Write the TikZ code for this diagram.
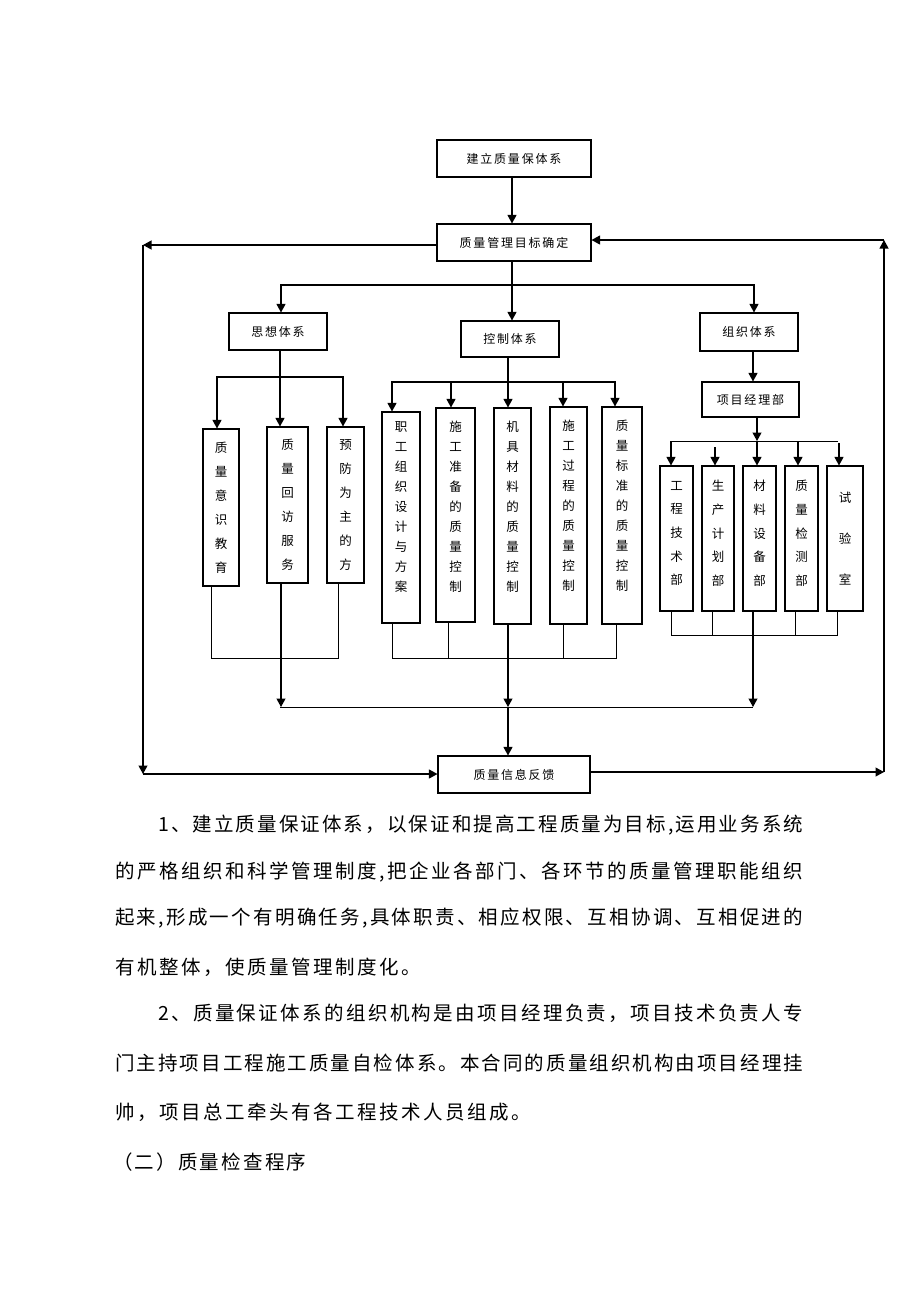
\documentclass[tikz,border=0pt]{standalone}
\usepackage{fontspec}
\setmainfont{Noto Sans CJK SC}
\newfontfamily\boxfont[LetterSpace=15]{Noto Sans CJK SC}
\usetikzlibrary{arrows.meta}
\def\spreadfirst#1{#1\spreadrest}
\def\spreadrest#1{\ifx\relax#1\else\hskip0pt plus 1fil#1\expandafter\spreadrest\fi}
\newcommand\spreadline[2]{\makebox[#1][s]{\spreadfirst#2\relax}}
\begin{document}
\begin{tikzpicture}[x=1pt,y=-1pt,
  box/.style={draw, line width=1.1pt, inner sep=0pt, font=\boxfont\fontsize{12}{14}\selectfont},
  vbox/.style={draw, line width=1.1pt, inner sep=0pt},
  vlab/.style={align=center, inner sep=0pt, font=\fontsize{12.5}{#1}\selectfont},
  arr/.style={line width=1.1pt, -{Triangle[length=8.5pt,width=9pt]}},
  ln/.style={line width=0.9pt},
  para/.style={anchor=west, inner sep=0pt, font=\fontsize{19.5}{24}\selectfont}]
\useasboundingbox (0,0) rectangle (920,1302);

% top boxes
\node[box, minimum width=154pt, minimum height=37pt] (t1) at (514,158.5) {建立质量保体系};
\node[box, minimum width=154pt, minimum height=37pt] (t2) at (514,242.5) {质量管理目标确定};
\node[box, minimum width=98pt, minimum height=37pt] (sx) at (278,331.5) {思想体系};
\node[box, minimum width=98pt, minimum height=36pt] (kz) at (510,339) {控制体系};
\node[box, minimum width=98pt, minimum height=38pt] (zz) at (749,332) {组织体系};
\node[box, minimum width=97pt, minimum height=35pt] (xm) at (750.5,399.5) {项目经理部};
\node[box, minimum width=152pt, minimum height=37pt] (fb) at (514,774.5) {质量信息反馈};

% group 1
\node[vbox, minimum width=36pt, minimum height=157pt, label={[vlab=24]center:质\\量\\意\\识\\教\\育}] (a1) at (221,507.5) {};
\node[vbox, minimum width=41pt, minimum height=156pt, label={[vlab=24]center:质\\量\\回\\访\\服\\务}] (a2) at (287.5,505) {};
\node[vbox, minimum width=37pt, minimum height=156pt, label={[vlab=24]center:预\\防\\为\\主\\的\\方}] (a3) at (345.5,505) {};

% group 2
\node[vbox, minimum width=38pt, minimum height=211pt, label={[vlab=20,yshift=10pt]center:职\\工\\组\\织\\设\\计\\与\\方\\案}] (b1) at (401,517.5) {};
\node[vbox, minimum width=39pt, minimum height=214pt, label={[vlab=20,yshift=8pt]center:施\\工\\准\\备\\的\\质\\量\\控\\制}] (b2) at (455.5,515) {};
\node[vbox, minimum width=37pt, minimum height=216pt, label={[vlab=20,yshift=9pt]center:机\\具\\材\\料\\的\\质\\量\\控\\制}] (b3) at (512.5,516) {};
\node[vbox, minimum width=37pt, minimum height=217pt, label={[vlab=20,yshift=10pt]center:施\\工\\过\\程\\的\\质\\量\\控\\制}] (b4) at (568.5,515.5) {};
\node[vbox, minimum width=40pt, minimum height=217pt, label={[vlab=20,yshift=10pt]center:质\\量\\标\\准\\的\\质\\量\\控\\制}] (b5) at (622,515.5) {};

% group 3
\node[vbox, minimum width=33pt, minimum height=145pt, label={[vlab=23.7,yshift=5pt]center:工\\程\\技\\术\\部}] (c1) at (676.5,538.5) {};
\node[vbox, minimum width=32pt, minimum height=145pt, label={[vlab=23.7,yshift=5pt]center:生\\产\\计\\划\\部}] (c2) at (718,538.5) {};
\node[vbox, minimum width=33pt, minimum height=145pt, label={[vlab=23.7,yshift=5pt]center:材\\料\\设\\备\\部}] (c3) at (759.5,538.5) {};
\node[vbox, minimum width=33pt, minimum height=145pt, label={[vlab=23.7,yshift=5pt]center:质\\量\\检\\测\\部}] (c4) at (801.5,538.5) {};
\node[vbox, minimum width=36pt, minimum height=145pt, label={[vlab=41]center:试\\验\\室}] (c5) at (845,538.5) {};

% main flow
\draw[arr] (t1.south -| 512,0) -- (t2.north -| 512,0);
\draw[arr] (t2.south -| 512,0) -- (kz.north -| 512,0);
\draw[arr] (512,285) -| (sx.north -| 281,0);
\draw[arr] (512,285) -| (zz.north -| 754,0);

% group 1 connectors
\draw[arr] (sx.south -| 280,0) -- (a2.north -| 280,0);
\draw[arr] (280,377) -| (a1.north -| 217,0);
\draw[arr] (280,377) -| (a3.north -| 343,0);
\draw[ln] (a1.south -| 211,0) |- (338,658) -- (a3.south -| 338,0);
\draw[arr] (a2.south -| 281,0) -- (281,707);

% group 2 connectors
\draw[arr] (kz.south -| 508,0) -- (b3.north -| 508,0);
\draw[arr] (508,382) -| (b1.north -| 392,0);
\draw[arr] (508,382) -| (b2.north -| 451,0);
\draw[arr] (508,382) -| (b4.north -| 563,0);
\draw[arr] (508,382) -| (b5.north -| 615,0);
\draw[ln] (b1.south -| 392,0) |- (616,658) -- (b5.south -| 616,0);
\draw[ln] (b2.south -| 448,0) -- (448,658);
\draw[ln] (b4.south -| 563,0) -- (563,658);
\draw[arr] (b3.south -| 508,0) -- (508,707);

% group 3 connectors
\draw[arr] (zz.south -| 753,0) -- (xm.north -| 753,0);
\draw[arr] (xm.south -| 757,0) -- (757,441);
\draw[ln] (671,441) -- (838,441);
\draw[arr] (757,441) -- (c3.north -| 757,0);
\draw[arr] (671,441) -- (c1.north -| 671,0);
\draw[arr] (715,447) -- (c2.north -| 715,0);
\draw[arr] (798,441) -- (c4.north -| 798,0);
\draw[arr] (839,443) -- (c5.north -| 839,0);
\draw[ln] (c1.south -| 671,0) |- (837,635) -- (c5.south -| 837,0);
\draw[ln] (c2.south -| 712,0) -- (712,635);
\draw[ln] (c4.south -| 795,0) -- (795,635);
\draw[arr] (c3.south -| 753,0) -- (753,707);

% collector
\draw[ln] (280,707) -- (753,707);
\draw[arr] (508,707) -- (fb.north -| 508,0);

% feedback loop
\draw[arr] (t2.west |- 0,245) -- (143,245);
\draw[arr] (143,245) -- (143,774);
\draw[arr] (143,774) -- (fb.west |- 0,774);
\draw[arr] (fb.east |- 0,772) -- (884,772);
\draw[arr] (884,772) -- (884,240);
\draw[arr] (884,240) -- (t2.east |- 0,240);

% paragraphs
\node[para] (p1) at (158,825) {\spreadline{645pt}{1、建立质量保证体系，以保证和提高工程质量为目标,运用业务系统}};
\node[para] (p2) at (115,872) {\spreadline{688pt}{的严格组织和科学管理制度,把企业各部门、各环节的质量管理职能组织}};
\node[para] (p3) at (115,918) {\spreadline{688pt}{起来,形成一个有明确任务,具体职责、相应权限、互相协调、互相促进的}};
\node[para] (p4) at (115,967) {\spreadline{306pt}{有机整体，使质量管理制度化。}};
\node[para] (p5) at (158,1013) {\spreadline{645pt}{2、质量保证体系的组织机构是由项目经理负责，项目技术负责人专}};
\node[para] (p6) at (115,1063) {\spreadline{688pt}{门主持项目工程施工质量自检体系。本合同的质量组织机构由项目经理挂}};
\node[para] (p7) at (115,1112) {\spreadline{416pt}{帅，项目总工牵头有各工程技术人员组成。}};
\node[para] (p8) at (113,1162) {\spreadline{193pt}{（二）质量检查程序}};
\end{tikzpicture}
\end{document}
